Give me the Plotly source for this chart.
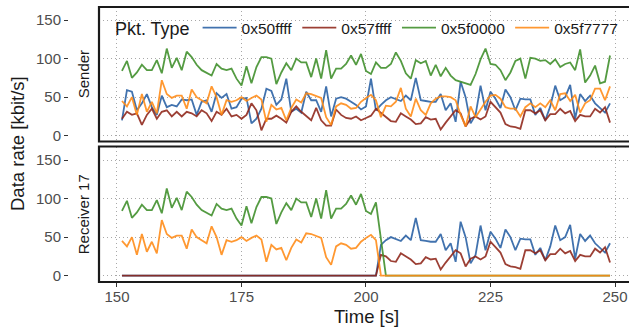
import plotly.graph_objects as go

# ---------------- data ----------------
time_s = list(range(151, 250))

series_names = ["0x50ffff", "0x57ffff", "0x5f0000", "0x5f7777"]
series_colors = ["#275EA3", "#8E2418", "#3C8D28", "#FF8A14"]

sender_50ffff = [20, 59, 57, 33, 42, 54, 37, 27, 52, 37,
                 40, 38, 47, 46, 47, 27, 44, 46, 31, 55,
                 49, 54, 35, 37, 48, 49, 16, 22, 35, 61,
                 58, 40, 47, 74, 31, 35, 30, 57, 46, 46,
                 31, 64, 25, 48, 50, 48, 44, 40, 34, 38,
                 74, 33, 40, 46, 50, 47, 45, 52, 46, 75,
                 46, 45, 44, 44, 54, 33, 42, 18, 70, 50,
                 16, 27, 65, 33, 57, 48, 36, 60, 50, 33,
                 48, 47, 47, 27, 36, 20, 38, 65, 46, 50,
                 66, 22, 54, 45, 52, 42, 36, 30, 42]
sender_57ffff = [22, 31, 27, 29, 14, 27, 35, 22, 31, 33,
                 25, 31, 25, 31, 29, 25, 33, 29, 19, 31,
                 27, 35, 25, 27, 22, 27, 42, 33, 7, 22,
                 22, 26, 22, 17, 31, 38, 31, 26, 20, 36,
                 20, 13, 13, 34, 27, 23, 22, 25, 20, 23,
                 26, 35, 30, 25, 19, 18, 29, 25, 21, 15,
                 16, 24, 21, 22, 8, 17, 25, 33, 29, 12,
                 22, 25, 21, 25, 44, 37, 30, 15, 12, 11,
                 9, 33, 33, 29, 33, 20, 28, 28, 35, 29,
                 32, 19, 27, 25, 25, 35, 30, 37, 17]
sender_5f0000 = [84, 97, 75, 82, 92, 85, 85, 98, 81, 113,
                 88, 101, 85, 109, 102, 92, 85, 82, 78, 93,
                 87, 85, 87, 74, 65, 90, 68, 89, 102, 102,
                 100, 67, 82, 94, 85, 100, 95, 95, 76, 100,
                 74, 111, 74, 87, 87, 93, 104, 92, 106, 84,
                 80, 95, 88, 88, 93, 108, 97, 81, 74, 98,
                 94, 97, 78, 92, 77, 88, 78, 72, 70, 69,
                 66, 80, 99, 113, 93, 92, 85, 72, 82, 97,
                 100, 74, 101, 100, 97, 98, 93, 99, 89, 93,
                 95, 85, 112, 69, 78, 91, 68, 70, 104]
sender_5f7777 = [45, 38, 50, 27, 54, 31, 44, 29, 72, 54,
                 49, 52, 52, 35, 60, 50, 46, 42, 64, 50,
                 27, 46, 44, 46, 50, 45, 49, 52, 47, 18,
                 40, 34, 36, 20, 36, 47, 43, 55, 54, 52,
                 49, 24, 14, 38, 42, 40, 35, 36, 44, 49,
                 53, 46, 24, 39, 38, 44, 62, 35, 25, 48,
                 33, 27, 42, 48, 51, 51, 50, 46, 27, 12,
                 38, 24, 34, 44, 52, 53, 48, 37, 35, 35,
                 25, 37, 42, 37, 42, 37, 46, 33, 54, 55,
                 45, 53, 30, 42, 46, 61, 61, 46, 64]

recv_50ffff = [0, 0, 0, 0, 0, 0, 0, 0, 0, 0,
               0, 0, 0, 0, 0, 0, 0, 0, 0, 0,
               0, 0, 0, 0, 0, 0, 0, 0, 0, 0,
               0, 0, 0, 0, 0, 0, 0, 0, 0, 0,
               0, 0, 0, 0, 0, 0, 0, 0, 0, 0,
               0, 0, 40, 46, 50, 47, 45, 52, 46, 75,
               46, 45, 44, 44, 54, 33, 42, 18, 70, 50,
               16, 27, 65, 33, 57, 48, 36, 60, 50, 33,
               48, 47, 47, 27, 36, 20, 38, 65, 46, 50,
               66, 22, 54, 45, 52, 42, 36, 30, 42]
recv_57ffff = [0, 0, 0, 0, 0, 0, 0, 0, 0, 0,
               0, 0, 0, 0, 0, 0, 0, 0, 0, 0,
               0, 0, 0, 0, 0, 0, 0, 0, 0, 0,
               0, 0, 0, 0, 0, 0, 0, 0, 0, 0,
               0, 0, 0, 0, 0, 0, 0, 0, 0, 0,
               0, 0, 27, 25, 19, 18, 29, 25, 21, 15,
               16, 24, 21, 22, 8, 17, 25, 33, 29, 12,
               22, 25, 21, 25, 44, 37, 30, 15, 12, 11,
               9, 33, 33, 29, 33, 20, 28, 28, 35, 29,
               32, 19, 27, 25, 25, 35, 30, 37, 17]
recv_5f0000 = [84, 97, 75, 82, 92, 85, 85, 98, 81, 113,
               88, 101, 85, 109, 102, 92, 85, 82, 78, 93,
               87, 85, 87, 74, 65, 90, 68, 89, 102, 102,
               100, 67, 82, 94, 85, 100, 95, 95, 76, 100,
               74, 111, 74, 87, 87, 93, 104, 92, 106, 84,
               80, 95, 45, 0, 0, 0, 0, 0, 0, 0,
               0, 0, 0, 0, 0, 0, 0, 0, 0, 0,
               0, 0, 0, 0, 0, 0, 0, 0, 0, 0,
               0, 0, 0, 0, 0, 0, 0, 0, 0, 0,
               0, 0, 0, 0, 0, 0, 0, 0, 0]
recv_5f7777 = [45, 38, 50, 27, 54, 31, 44, 29, 72, 54,
               49, 52, 52, 35, 60, 50, 46, 42, 64, 50,
               27, 46, 44, 46, 50, 45, 49, 52, 47, 18,
               40, 34, 36, 20, 36, 47, 43, 55, 54, 52,
               49, 24, 14, 38, 42, 40, 35, 36, 44, 49,
               53, 46, 0, 0, 0, 0, 0, 0, 0, 0,
               0, 0, 0, 0, 0, 0, 0, 0, 0, 0,
               0, 0, 0, 0, 0, 0, 0, 0, 0, 0,
               0, 0, 0, 0, 0, 0, 0, 0, 0, 0,
               0, 0, 0, 0, 0, 0, 0, 0, 0]

facet_labels = ["Sender", "Receiver 17"]
x_ticks = [150, 175, 200, 225, 250]
y_ticks = [0, 50, 100, 150]

# ---------------- figure ----------------
FONT = "Liberation Sans, Arial, sans-serif"
fig = go.Figure()

sender = [sender_50ffff, sender_57ffff, sender_5f0000, sender_5f7777]
recv = [recv_50ffff, recv_57ffff, recv_5f0000, recv_5f7777]

for name, col, ys in zip(series_names, series_colors, sender):
    fig.add_trace(go.Scatter(x=time_s, y=ys, mode="lines", name=name,
                             line=dict(color=col, width=1.8), opacity=0.88,
                             xaxis="x2", yaxis="y2", legendgroup=name))
for name, col, ys in zip(series_names, series_colors, recv):
    fig.add_trace(go.Scatter(x=time_s, y=ys, mode="lines", name=name,
                             line=dict(color=col, width=1.8), opacity=0.88,
                             xaxis="x", yaxis="y", legendgroup=name,
                             showlegend=False))

L, R, T, B = 68, 0, 7, 47
W, H = 629, 329
pw = W - L - R
ph = H - T - B
d0 = (99 - L) / pw
top_dom = [(H - B - 141.5) / ph, 1]
bot_dom = [0, (H - B - 146.5) / ph]

xr = [146.39, 252.81]
grid = dict(showgrid=True, gridcolor="#a8a8a8", gridwidth=1, griddash="1px,3px",
            zeroline=False, showline=False)
tickfont = dict(family=FONT, size=15, color="#4d4d4d")

fig.update_layout(
    width=W, height=H,
    margin=dict(l=L, r=R, t=T, b=B, pad=0),
    paper_bgcolor="white", plot_bgcolor="white",
    font=dict(family=FONT),
    xaxis=dict(domain=[d0, 1], range=xr, tickvals=x_ticks, ticks="outside",
               ticklen=4, tickcolor="#333333", tickfont=tickfont, anchor="y",
               ticklabelstandoff=-3, **grid),
    xaxis2=dict(domain=[d0, 1], range=xr, tickvals=x_ticks, showticklabels=False,
                ticks="", anchor="y2", matches="x", **grid),
    yaxis=dict(domain=bot_dom, range=[-8.2, 167.5], tickvals=y_ticks, ticks="outside",
               ticklen=4, tickcolor="#333333", tickfont=tickfont,
               anchor="free", position=0, **grid),
    yaxis2=dict(domain=top_dom, range=[-7.5, 166.9], tickvals=y_ticks, ticks="outside",
                ticklen=4, tickcolor="#333333", tickfont=tickfont,
                anchor="free", position=0, **grid),
    legend=dict(orientation="h", x=0.08, y=0.985, xanchor="left", yanchor="top",
                bgcolor="rgba(0,0,0,0)", font=dict(family=FONT, size=15.5, color="#1a1a1a"),
                title=dict(text="Pkt. Type", side="left",
                           font=dict(family=FONT, size=18, color="#1a1a1a")),
                itemwidth=34, tracegroupgap=0),
    showlegend=True,
)

# panel borders
for dom in (top_dom, bot_dom):
    fig.add_shape(type="rect", xref="paper", yref="paper", x0=d0, x1=1.03,
                  y0=dom[0], y1=dom[1], line=dict(color="#1a1a1a", width=2.2),
                  fillcolor="rgba(0,0,0,0)", layer="above")

# strip labels
for lab, dom in zip(facet_labels, (top_dom, bot_dom)):
    fig.add_annotation(text=lab, xref="paper", yref="paper", x=(83 - L) / pw,
                       y=(dom[0] + dom[1]) / 2, textangle=-90, showarrow=False,
                       xanchor="center", yanchor="middle",
                       font=dict(family=FONT, size=15, color="#1a1a1a"))

fig.add_annotation(text="Data rate [kbit/s]", xref="paper", yref="paper",
                   x=(17 - L) / pw, y=(H - B - 144) / ph, textangle=-90,
                   showarrow=False, xanchor="center", yanchor="middle",
                   font=dict(family=FONT, size=18.5, color="#1a1a1a"))
fig.add_annotation(text="Time [s]", xref="paper", yref="paper",
                   x=(366 - L) / pw, y=(H - B - 316.7) / ph, showarrow=False,
                   xanchor="center", yanchor="middle",
                   font=dict(family=FONT, size=18.5, color="#1a1a1a"))

fig.write_html("out.html",
               config={"displayModeBar": False, "staticPlot": True},
               post_script="document.body.style.margin='0';"
                           "document.body.style.overflow='hidden';")
